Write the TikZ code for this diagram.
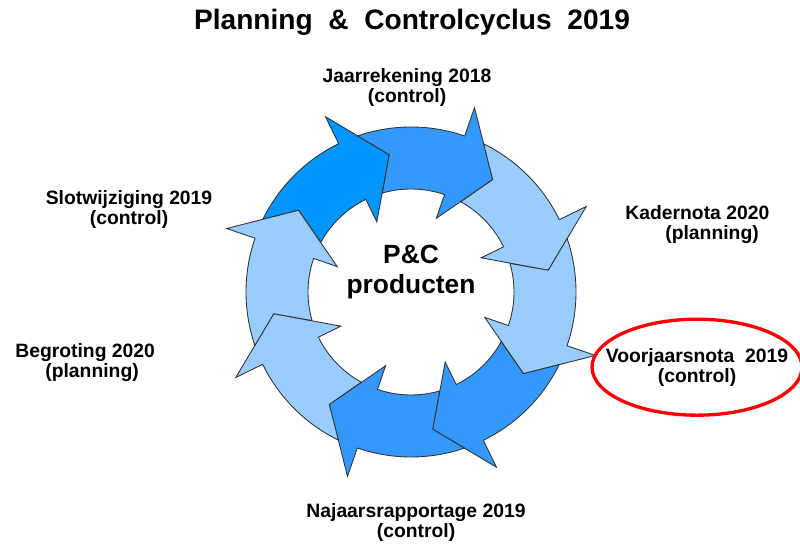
\documentclass[tikz,border=0pt]{standalone}
\usepackage{fontspec}
\setmainfont{Liberation Sans}
\usepackage{tikz}
\usetikzlibrary{positioning}
\definecolor{cyclebright}{RGB}{0,150,255}
\definecolor{cyclemid}{RGB}{51,153,255}
\definecolor{cyclelight}{RGB}{153,204,255}
\tikzstyle{cyclearrow} = [draw=black!80, line width=0.5pt, line join=miter]
\tikzstyle{stagetext} = [align=center, inner sep=0pt, font=\bfseries\fontsize{11}{11.2}\selectfont]
\tikzstyle{titletext} = [inner sep=0pt, font=\bfseries\fontsize{16}{19}\selectfont]
\tikzstyle{centertext} = [align=center, inner sep=0pt, font=\bfseries\fontsize{15}{17}\selectfont]
\tikzstyle{highlight} = [draw=red, line width=1.9pt]

\begin{document}
\begin{tikzpicture}[x=0.02cm, y=0.02cm]
	\useasboundingbox (0,0) rectangle (800,546);
	\coordinate (cyc) at (411,254);
	
	% ring of arrows, tip angle / colour
	\foreach \a/\col in {99/cyclebright, 54/cyclemid, 9/cyclelight, -36/cyclelight, -81/cyclemid, -126/cyclemid, -171/cyclelight, -216/cyclelight}
	\draw[cyclearrow, fill=\col, shift={(cyc)}] (\a+54.9:165) arc[start angle=\a+54.9, end angle=\a+17, radius=165] -- (\a+17:195) -- (\a:139) -- (\a+17:78) -- (\a+17:103) arc[start angle=\a+17, end angle=\a+52.1, radius=103] -- (\a+45:139) -- cycle;
	
	\node[titletext, anchor=base] (title) at (412,516) {Planning\ \ \&\ \ Controlcyclus\ \ 2019};
	\node[centertext, anchor=north] (pc) at (411,301) {P\&C\\producten};
	
	\node[stagetext, anchor=north] (jaar) at (407,478) {Jaarrekening 2018\\(control)};
	\node[stagetext, anchor=north west, align=left] (kader) at (625,341) {Kadernota 2020\\\hspace*{0.8cm}(planning)};
	\node[stagetext, anchor=north] (voorjaar) at (697,198) {Voorjaarsnota\ \ 2019\\(control)};
	\node[stagetext, anchor=north] (najaar) at (416,43) {Najaarsrapportage 2019\\(control)};
	\node[stagetext, anchor=north west, align=left] (begroting) at (15,203) {Begroting 2020\\\hspace*{0.6cm}(planning)};
	\node[stagetext, anchor=north] (slot) at (129,356) {Slotwijziging 2019\\(control)};
	
	\draw[highlight] (voorjaar.center) ellipse [x radius=105, y radius=48];
	
\end{tikzpicture}
\end{document}
